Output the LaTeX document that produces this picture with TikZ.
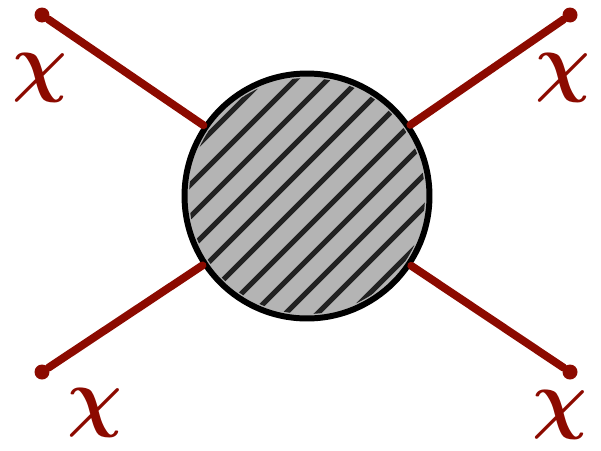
\documentclass[tikz,border=0pt]{standalone}
\usepackage{amsmath}
\usetikzlibrary{positioning}
\definecolor{chired}{RGB}{140,10,0}
\definecolor{blobgray}{RGB}{180,180,180}
\definecolor{hatchgray}{RGB}{34,34,34}
\begin{document}
\begin{tikzpicture}[x=0.02cm,y=-0.02cm,
  leg/.style={draw=chired, line width=4.5pt, line cap=round},
  legend/.style={circle, fill=chired, inner sep=0pt, minimum size=0.3cm},
  chilabel/.style={text=chired, font=\Huge, scale=1.75},
  hatch/.style={draw=hatchgray, line width=3pt}]
\useasboundingbox (0,0) rectangle (601,450);
\node[legend] (tl) at (42,15) {};
\node[legend] (tr) at (570,15) {};
\node[legend] (bl) at (42,372) {};
\node[legend] (br) at (570,372) {};
\node[circle, draw, line width=3.4pt, fill=blobgray, minimum size=4.9cm, inner sep=0pt] (blob) at (307,196) {};
\begin{scope}
\clip (blob.center) circle (2.36cm);
\foreach \d in {-7,...,7}
  \draw[hatch, shift={(blob.center)}] (\d*16+140,\d*16-140) -- (\d*16-140,\d*16+140);
\end{scope}
\draw[leg] (blob) -- (tl);
\draw[leg] (blob) -- (tr);
\draw[leg] (blob) -- (bl);
\draw[leg] (blob) -- (br);
\node[chilabel] (chitl) at (40,78) {$\boldsymbol{\chi}$};
\node[chilabel] (chitr) at (563,78) {$\boldsymbol{\chi}$};
\node[chilabel] (chibl) at (95,413) {$\boldsymbol{\chi}$};
\node[chilabel] (chibr) at (560,415) {$\boldsymbol{\chi}$};
\end{tikzpicture}
\end{document}
